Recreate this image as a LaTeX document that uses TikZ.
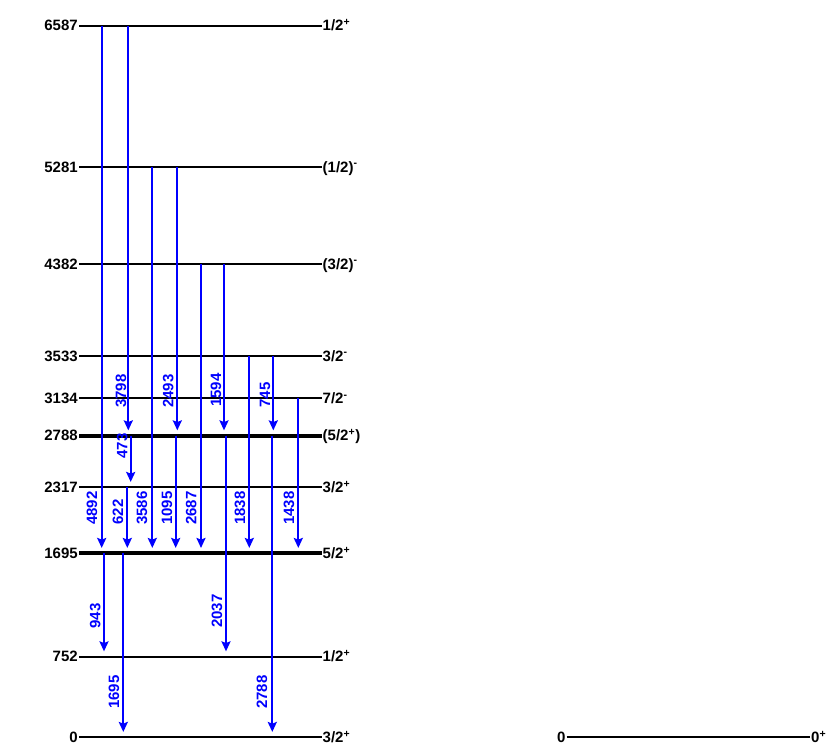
\documentclass[tikz,border=0pt]{standalone}
\usepackage{fontspec}
\setmainfont{Liberation Sans}
\usetikzlibrary{arrows.meta}
\newcommand{\levfont}{\fontsize{12.8}{15}\selectfont\bfseries}
% level: [style]{energy}{y}{spin}
\newcommand{\lev}[4][lvl]{%
  \coordinate (l#2) at (79,#3);
  \coordinate (r#2) at (321.5,#3);
  \draw[#1] (l#2) -- (r#2);
  \node[elab] (e#2) at (l#2) {#2};
  \node[jlab] (j#2) at (r#2) {#4};}
% gamma: x, from, to, energy, label x, label y
\newcommand{\gam}[6]{%
  \draw[gam] (#1,0 |- l#2) -- (#1,0 |- l#3);
  \node[glab] (g#4) at (#5,#6) {#4};}

\begin{document}
\begin{tikzpicture}[x=0.03cm, y=-0.03cm,
    lvl/.style={draw=black, line width=0.06cm},
    lvlthick/.style={draw=black, line width=0.13cm},
    elab/.style={anchor=base east, inner sep=0pt, xshift=-0.03cm, yshift=-0.15cm, font=\levfont},
    jlab/.style={anchor=base west, inner sep=0pt, xshift=0.03cm, yshift=-0.15cm, font=\levfont},
    gam/.style={-{Stealth[length=0.3cm, width=0.27cm, inset=0.05cm]}, draw=blue,
                line width=0.06cm, shorten >=0.16cm},
    glab/.style={rotate=90, inner sep=0pt, text=blue, font=\levfont}
]
    \useasboundingbox (0,0) rectangle (837,756);

    \lev{6587}{26}{1/2\textsuperscript{+}}
    \lev{5281}{167}{(1/2)\textsuperscript{-}}
    \lev{4382}{264}{(3/2)\textsuperscript{-}}
    \lev{3533}{356}{3/2\textsuperscript{-}}
    \lev{3134}{398.3}{7/2\textsuperscript{-}}
    \lev[lvlthick]{2788}{435.7}{(5/2\textsuperscript{+})}
    \lev{2317}{487.3}{3/2\textsuperscript{+}}
    \lev[lvlthick]{1695}{553.3}{5/2\textsuperscript{+}}
    \lev{752}{656.7}{1/2\textsuperscript{+}}
    \lev{0}{737.3}{3/2\textsuperscript{+}}

    % second nucleus
    \coordinate (l0b) at (566.7,737.3);
    \coordinate (r0b) at (810,737.3);
    \draw[lvl] (l0b) -- (r0b);
    \node[elab] (e0b) at (l0b) {0};
    \node[jlab] (j0b) at (r0b) {0\textsuperscript{+}};

    \gam{101.7}{6587}{1695}{4892}{92}{508}
    \gam{128.3}{6587}{2788}{3798}{121}{391}
    \gam{130.7}{2788}{2317}{473}{122.3}{446}
    \gam{127.3}{2317}{1695}{622}{118}{512}
    \gam{152.3}{5281}{1695}{3586}{142}{508}
    \gam{177.3}{5281}{2788}{2493}{168.3}{391}
    \gam{175.7}{2788}{1695}{1095}{167}{508}
    \gam{201}{4382}{1695}{2687}{191.3}{508}
    \gam{224}{4382}{2788}{1594}{216}{390}
    \gam{226}{2788}{752}{2037}{217}{611}
    \gam{249.3}{3533}{1695}{1838}{240}{508}
    \gam{273.3}{3533}{2788}{745}{265}{395}
    \gam{272.3}{2788}{0}{2788}{262}{692}
    \gam{298.3}{3134}{1695}{1438}{289}{508}
    \gam{104}{1695}{752}{943}{95.3}{616}
    \gam{123.3}{1695}{0}{1695}{114}{692}
\end{tikzpicture}
\end{document}
